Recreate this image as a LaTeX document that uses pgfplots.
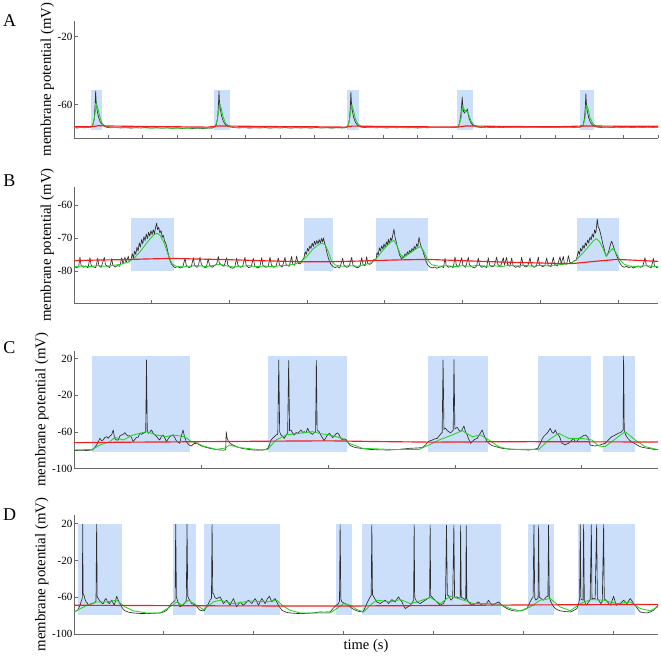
\documentclass[border=0pt]{standalone}
\usepackage{pgfplots}
\pgfplotsset{compat=1.18}
\usepackage{fontspec}
\setmainfont{Liberation Serif}
\definecolor{cshade}{RGB}{204,223,250}
\definecolor{ctrace}{RGB}{45,45,45}
\definecolor{cgreen}{RGB}{35,210,35}
\definecolor{cred}{RGB}{240,30,30}
\definecolor{axgray}{RGB}{105,105,105}
\pgfplotsset{
  panel/.style={
    scale only axis, width=584pt,
    axis x line*=bottom, axis y line*=left,
    axis line style={axgray, line width=0.7pt},
    tick align=inside, major tick length=3.5pt,
    tick style={axgray, line width=0.7pt},
    xticklabels={},
    yticklabel style={font=\fontsize{11}{12}\selectfont, inner sep=1.5pt},
    ylabel={membrane potential (mV)},
    ylabel style={font=\fontsize{14.8}{16}\selectfont, inner sep=2pt},
    anchor=south west,
  },
  box/.style={fill=cshade, draw=none},
  blk/.style={color=ctrace, line width=0.65pt, line join=round},
  grn/.style={color=cgreen, line width=0.85pt, line join=round},
  redl/.style={color=cred, line width=1.15pt, line join=round},
}
\begin{document}
\begin{tikzpicture}
\useasboundingbox (0,0) rectangle (661pt,-656pt);
\node[font=\fontsize{18}{20}\selectfont] at (9.5pt,-21pt) {A};
\node[font=\fontsize{18}{20}\selectfont] at (9.5pt,-181pt) {B};
\node[font=\fontsize{18}{20}\selectfont] at (9.5pt,-348pt) {C};
\node[font=\fontsize{18}{20}\selectfont] at (9.5pt,-515pt) {D};

% ---------------- A ----------------
\begin{axis}[panel, at={(74pt,-138pt)}, height=117pt,
  xmin=0, xmax=17, ymin=-79.6, ymax=-10.8,
  xtick={1,...,17}, ytick={-60,-20}, yticklabels={-60,-20}]
\addplot[box] coordinates {(0.486,-74.9) (0.806,-74.9) (0.806,-51.4) (0.486,-51.4)} -- cycle;
\addplot[box] coordinates {(4.076,-74.9) (4.54,-74.9) (4.54,-51.4) (4.076,-51.4)} -- cycle;
\addplot[box] coordinates {(7.94,-74.9) (8.30,-74.9) (8.30,-51.4) (7.94,-51.4)} -- cycle;
\addplot[box] coordinates {(11.14,-74.9) (11.61,-74.9) (11.61,-51.4) (11.14,-51.4)} -- cycle;
\addplot[box] coordinates {(14.73,-74.9) (15.14,-74.9) (15.14,-51.4) (14.73,-51.4)} -- cycle;
\addplot[blk] coordinates {
(0,-73.4) (0.1,-73.7) (0.2,-73.3) (0.3,-73.6) (0.4,-73.4) (0.48,-73.2) (0.55,-72.0) (0.59,-68.0) (0.615,-60.0) (0.63,-52.0) (0.645,-58.0) (0.67,-63.0) (0.71,-67.0) (0.76,-70.0) (0.83,-72.0) (0.93,-73.2) (1.05,-73.6) (1.2,-73.3) (1.35,-73.7) (1.5,-73.4) (1.65,-73.8) (1.8,-73.5) (1.95,-73.7) (2.1,-73.4) (2.25,-73.8) (2.4,-73.5) (2.55,-73.8) (2.7,-73.6) (2.85,-73.9) (3.0,-73.6) (3.15,-74.0) (3.3,-73.7) (3.45,-74.0) (3.6,-73.8) (3.75,-74.0) (3.9,-73.8) (4.05,-73.7)
(4.14,-72.0) (4.18,-68.0) (4.205,-60.0) (4.22,-52.0) (4.235,-58.0) (4.26,-63.0) (4.3,-67.0) (4.35,-70.0) (4.42,-72.0) (4.52,-73.0) (4.65,-73.4) (4.8,-73.7) (4.95,-73.4) (5.1,-73.8) (5.25,-73.5) (5.4,-73.7) (5.55,-73.4) (5.7,-73.8) (5.85,-73.5) (6.0,-73.7) (6.15,-73.4) (6.3,-73.8) (6.45,-73.5) (6.6,-73.7) (6.75,-73.5) (6.9,-73.8) (7.05,-73.4) (7.2,-73.7) (7.35,-73.5) (7.5,-73.8) (7.65,-73.5) (7.8,-73.7) (7.92,-73.5)
(7.98,-72.2) (8.02,-68.5) (8.045,-61.0) (8.06,-52.5) (8.075,-58.5) (8.1,-63.5) (8.14,-67.5) (8.19,-70.3) (8.26,-72.2) (8.36,-73.2) (8.5,-73.5) (8.65,-73.3) (8.8,-73.6) (8.95,-73.4) (9.1,-73.7) (9.25,-73.4) (9.4,-73.6) (9.55,-73.3) (9.7,-73.6) (9.85,-73.4) (10.0,-73.7) (10.15,-73.4) (10.3,-73.6) (10.45,-73.3) (10.6,-73.5) (10.75,-73.3) (10.9,-73.5) (11.05,-73.3) (11.15,-73.2)
(11.22,-71.5) (11.26,-66) (11.285,-60) (11.3,-55.5) (11.315,-60) (11.34,-64) (11.37,-65) (11.4,-63.5) (11.43,-63.8) (11.45,-62.5) (11.47,-65) (11.5,-68) (11.55,-70.5) (11.62,-72.3) (11.72,-73.1) (11.85,-73.4) (12.0,-73.2) (12.15,-73.5) (12.3,-73.3) (12.45,-73.5) (12.6,-73.2) (12.75,-73.5) (12.9,-73.3) (13.05,-73.5) (13.2,-73.2) (13.35,-73.4) (13.5,-73.2) (13.65,-73.4) (13.8,-73.1) (13.95,-73.4) (14.1,-73.2) (14.25,-73.4) (14.4,-73.2) (14.55,-73.4) (14.7,-73.3)
(14.82,-72.0) (14.86,-68.0) (14.885,-61) (14.9,-53.5) (14.915,-59) (14.94,-63.5) (14.98,-67.5) (15.03,-70.3) (15.1,-72.2) (15.2,-73.1) (15.35,-73.4) (15.5,-73.2) (15.65,-73.5) (15.8,-73.2) (15.95,-73.4) (16.1,-73.2) (16.25,-73.5) (16.4,-73.2) (16.55,-73.4) (16.7,-73.2) (16.85,-73.4) (17,-73.3)};
\addplot[grn] coordinates {
(0,-73.5) (0.45,-73.4) (0.53,-72.5) (0.58,-69.5) (0.62,-64.0) (0.66,-59.6) (0.7,-62.5) (0.75,-67.0) (0.82,-71.0) (0.92,-72.8) (1.1,-73.4) (2.0,-73.6) (3.0,-73.8) (4.0,-73.7) (4.1,-73.0) (4.16,-70.0) (4.21,-64.0) (4.25,-59.8) (4.29,-62.5) (4.34,-67.0) (4.41,-71.0) (4.52,-72.8) (4.7,-73.4) (6.0,-73.6) (7.9,-73.6) (7.96,-73.0) (8.01,-70.0) (8.05,-64.5) (8.09,-60.2) (8.13,-63.0) (8.18,-67.5) (8.25,-71.0) (8.36,-72.8) (8.55,-73.4) (10,-73.5) (11.1,-73.3) (11.2,-72.5) (11.26,-68.5) (11.3,-63.5) (11.33,-61.0) (11.37,-63.5) (11.41,-64.2) (11.45,-63.8) (11.5,-66.5) (11.56,-69.8) (11.65,-72.2) (11.8,-73.1) (13,-73.4) (14.75,-73.3) (14.82,-72.5) (14.87,-68.5) (14.9,-63.5) (14.93,-60.5) (14.97,-63.0) (15.02,-67.5) (15.1,-71.0) (15.2,-72.6) (15.4,-73.3) (17,-73.3)};
\addplot[redl] coordinates {
(0,-72.9) (0.5,-73.0) (0.7,-72.4) (1.2,-72.6) (2,-72.8) (3,-73.0) (3.9,-73.2) (4.2,-72.5) (5,-72.7) (6,-72.9) (7,-73.0) (7.9,-73.2) (8.1,-72.6) (9,-72.8) (10,-73.0) (11.2,-73.1) (11.4,-72.5) (12.5,-72.8) (14,-73.0) (14.9,-72.5) (16,-72.7) (17,-72.7)};
\end{axis}

% ---------------- B ----------------
\begin{axis}[panel, at={(74pt,-303.3pt)}, height=116.6pt,
  xmin=0, xmax=7.516, ymin=-89.8, ymax=-54.5,
  xtick={1,...,7}, ytick={-80,-70,-60}, yticklabels={-80,-70,-60}]
\addplot[box] coordinates {(0.734,-79.9) (1.283,-79.9) (1.283,-64.0) (0.734,-64.0)} -- cycle;
\addplot[box] coordinates {(2.96,-79.9) (3.337,-79.9) (3.337,-64.0) (2.96,-64.0)} -- cycle;
\addplot[box] coordinates {(3.887,-79.9) (4.552,-79.9) (4.552,-64.0) (3.887,-64.0)} -- cycle;
\addplot[box] coordinates {(6.474,-79.9) (7.01,-79.9) (7.01,-64.0) (6.474,-64.0)} -- cycle;
\addplot[blk] coordinates {
(0,-78.6) (0.03,-79.0) (0.06,-78.7) (0.077,-75.8) (0.09,-78.2) (0.12,-78.9) (0.15,-78.5) (0.18,-79.1) (0.206,-76.0) (0.22,-78.3) (0.25,-78.8) (0.28,-79.0) (0.305,-76.2) (0.32,-78.4) (0.35,-78.9) (0.39,-75.9) (0.405,-78.2) (0.44,-78.7) (0.46,-79.0) (0.485,-76.3) (0.50,-78.3) (0.53,-78.8) (0.56,-78.4) (0.59,-78.6) (0.614,-76.0) (0.63,-77.9) (0.656,-75.8) (0.67,-77.6) (0.699,-75.5) (0.71,-77.3)
(0.734,-76.5) (0.75,-74.8) (0.765,-76.0) (0.78,-74.0) (0.795,-75.0) (0.81,-72.8) (0.825,-74.0) (0.84,-71.5) (0.855,-72.8) (0.87,-70.5) (0.885,-71.8) (0.90,-69.6) (0.915,-70.8) (0.93,-68.8) (0.945,-70.2) (0.96,-68.3) (0.975,-69.5) (0.99,-67.8) (1.005,-69.0) (1.02,-67.5) (1.035,-68.8) (1.05,-66.8) (1.064,-65.5) (1.075,-67.5) (1.09,-66.8) (1.105,-68.5) (1.12,-67.8) (1.135,-69.8) (1.15,-69.2) (1.165,-71.0) (1.18,-71.5) (1.195,-72.8) (1.21,-74.5) (1.225,-76.0) (1.24,-77.2) (1.257,-78.0) (1.28,-78.6) (1.30,-79.0)
(1.33,-78.7) (1.37,-79.1) (1.40,-78.8) (1.429,-76.2) (1.445,-78.3) (1.48,-79.0) (1.51,-78.7) (1.536,-76.0) (1.55,-78.2) (1.58,-78.9) (1.60,-78.6) (1.622,-75.8) (1.64,-78.1) (1.67,-78.8) (1.70,-79.1) (1.728,-76.3) (1.745,-78.4) (1.78,-78.9) (1.81,-78.3) (1.835,-78.0) (1.857,-75.6) (1.87,-77.6) (1.90,-78.2) (1.93,-78.6) (1.965,-76.0) (1.98,-78.2) (2.01,-78.9) (2.04,-79.2) (2.07,-78.8) (2.094,-76.1) (2.11,-78.3) (2.14,-78.9) (2.17,-78.6) (2.2,-75.9) (2.215,-78.2) (2.25,-79.0) (2.28,-78.7) (2.308,-76.2) (2.325,-78.4) (2.36,-79.1) (2.39,-78.8) (2.416,-76.0) (2.43,-78.3) (2.47,-78.9) (2.50,-78.6) (2.523,-75.8) (2.54,-78.2) (2.57,-78.9) (2.60,-78.5) (2.63,-76.1) (2.645,-78.3) (2.68,-78.8) (2.716,-75.9) (2.73,-78.1) (2.77,-78.6) (2.802,-75.6) (2.815,-77.9) (2.84,-78.3) (2.866,-75.5) (2.88,-77.6) (2.91,-77.9) (2.935,-77.0)
(2.96,-76.0) (2.975,-74.2) (2.99,-75.0) (3.005,-73.2) (3.02,-74.0) (3.035,-72.4) (3.05,-73.2) (3.065,-71.6) (3.08,-72.6) (3.095,-71.0) (3.11,-72.0) (3.125,-70.8) (3.14,-71.8) (3.155,-70.5) (3.17,-71.6) (3.185,-70.2) (3.20,-71.2) (3.21,-70.0) (3.225,-71.5) (3.24,-72.8) (3.255,-74.5) (3.27,-75.8) (3.29,-77.2) (3.31,-78.1) (3.337,-78.7)
(3.36,-79.0) (3.39,-78.7) (3.42,-79.1) (3.458,-76.2) (3.475,-78.3) (3.51,-78.9) (3.54,-78.6) (3.574,-75.9) (3.59,-78.2) (3.62,-78.8) (3.65,-79.0) (3.68,-78.6) (3.703,-76.0) (3.72,-78.1) (3.745,-78.4) (3.767,-75.7) (3.78,-77.8) (3.81,-78.0) (3.835,-77.5) (3.86,-76.5)
(3.887,-76.5) (3.90,-74.5) (3.915,-75.2) (3.93,-73.0) (3.945,-74.0) (3.96,-72.4) (3.975,-73.4) (3.99,-71.8) (4.005,-73.0) (4.02,-71.2) (4.035,-72.2) (4.045,-70.4) (4.06,-71.8) (4.075,-70.0) (4.09,-70.8) (4.105,-68.8) (4.118,-67.4) (4.13,-69.6) (4.145,-71.0) (4.16,-72.6) (4.175,-73.8) (4.19,-75.2) (4.205,-75.8) (4.217,-76.6) (4.23,-75.5) (4.245,-76.0) (4.26,-74.8) (4.275,-75.5) (4.29,-74.2) (4.305,-74.9) (4.32,-73.8) (4.335,-74.5) (4.35,-73.2) (4.365,-74.0) (4.38,-72.6) (4.395,-73.4) (4.41,-71.8) (4.425,-72.6) (4.44,-69.8) (4.455,-71.6) (4.47,-72.8) (4.485,-73.6) (4.50,-74.8) (4.515,-75.8) (4.53,-77.0) (4.552,-78.2) (4.58,-78.8)
(4.61,-79.1) (4.64,-78.8) (4.67,-79.2) (4.70,-78.9) (4.73,-78.6) (4.755,-79.0) (4.775,-76.2) (4.79,-78.3) (4.82,-78.9) (4.85,-78.6) (4.88,-79.0) (4.903,-75.8) (4.92,-78.2) (4.95,-78.8) (4.99,-76.0) (5.005,-78.3) (5.04,-78.9) (5.075,-75.9) (5.09,-78.2) (5.12,-78.7) (5.15,-79.1) (5.18,-78.6) (5.203,-76.1) (5.22,-78.3) (5.25,-78.9) (5.28,-78.5) (5.31,-79.0) (5.332,-76.0) (5.35,-78.2) (5.38,-78.8) (5.41,-78.4) (5.44,-75.8) (5.455,-78.1) (5.49,-78.7) (5.525,-76.0) (5.54,-78.2) (5.568,-75.9) (5.58,-78.0) (5.61,-78.6) (5.633,-76.1) (5.65,-78.3) (5.68,-78.9) (5.71,-78.6) (5.74,-78.9) (5.761,-75.9) (5.78,-78.2) (5.81,-78.8) (5.84,-78.5) (5.869,-76.0) (5.885,-78.2) (5.92,-78.9) (5.95,-78.6) (5.976,-75.8) (5.99,-78.1) (6.03,-78.7) (6.06,-78.4) (6.084,-76.1) (6.10,-78.2) (6.14,-78.7) (6.169,-75.9) (6.185,-78.0) (6.22,-78.5) (6.255,-75.7) (6.27,-77.8) (6.298,-75.6) (6.31,-77.6) (6.34,-78.0) (6.363,-75.4) (6.38,-77.4) (6.41,-77.6) (6.44,-76.8) (6.46,-76.9)
(6.474,-75.8) (6.49,-74.0) (6.505,-75.0) (6.52,-73.2) (6.535,-74.0) (6.55,-72.2) (6.565,-73.2) (6.58,-71.5) (6.595,-72.4) (6.61,-70.6) (6.625,-71.6) (6.64,-69.8) (6.655,-70.6) (6.67,-68.8) (6.685,-69.8) (6.70,-67.6) (6.715,-68.6) (6.725,-66.5) (6.735,-64.3) (6.745,-66.6) (6.76,-67.2) (6.775,-68.6) (6.79,-70.0) (6.805,-71.8) (6.82,-73.0) (6.835,-74.5) (6.85,-75.6) (6.865,-75.0) (6.88,-74.2) (6.895,-72.8) (6.91,-71.6) (6.92,-71.0) (6.935,-72.0) (6.95,-73.2) (6.965,-74.2) (6.98,-75.2) (6.995,-76.0) (7.01,-76.8) (7.03,-77.8) (7.05,-78.5)
(7.08,-78.9) (7.11,-78.6) (7.14,-79.0) (7.17,-78.7) (7.20,-79.1) (7.23,-78.8) (7.26,-78.5) (7.29,-78.9) (7.32,-78.6) (7.349,-76.0) (7.365,-78.3) (7.40,-78.8) (7.43,-79.0) (7.456,-76.2) (7.47,-78.4) (7.50,-79.0) (7.516,-78.8)};
\addplot[grn] coordinates {
(0,-78.8) (0.1,-78.5) (0.2,-78.7) (0.3,-78.4) (0.4,-78.6) (0.5,-78.3) (0.6,-78.0) (0.7,-77.3) (0.78,-76.0) (0.85,-74.2) (0.92,-72.0) (0.98,-70.2) (1.03,-69.0) (1.07,-68.6) (1.11,-69.3) (1.16,-71.5) (1.21,-75.0) (1.26,-77.8) (1.32,-78.6) (1.4,-78.8) (1.5,-78.5) (1.6,-78.4) (1.7,-78.7) (1.8,-78.3) (1.88,-78.0) (1.95,-78.4) (2.05,-78.8) (2.15,-78.6) (2.25,-78.4) (2.35,-78.7) (2.45,-78.5) (2.55,-78.7) (2.65,-78.4) (2.75,-78.3) (2.85,-77.9) (2.93,-77.0) (3.0,-75.5) (3.07,-73.5) (3.13,-72.3) (3.19,-71.6) (3.23,-72.0) (3.27,-74.0) (3.31,-76.8) (3.36,-78.2) (3.45,-78.6) (3.55,-78.4) (3.65,-78.6) (3.75,-78.0) (3.83,-77.5) (3.9,-76.0) (3.96,-74.2) (4.02,-72.5) (4.08,-71.2) (4.12,-70.8) (4.16,-72.5) (4.2,-75.0) (4.24,-75.8) (4.3,-75.0) (4.36,-74.0) (4.42,-73.0) (4.46,-72.6) (4.5,-74.0) (4.55,-76.6) (4.6,-78.1) (4.7,-78.6) (4.8,-78.4) (4.9,-78.7) (5.0,-78.4) (5.1,-78.6) (5.2,-78.3) (5.3,-78.6) (5.4,-78.4) (5.5,-78.7) (5.6,-78.3) (5.7,-78.5) (5.8,-78.3) (5.9,-78.6) (6.0,-78.3) (6.1,-78.5) (6.2,-78.2) (6.3,-78.0) (6.4,-77.6) (6.47,-76.5) (6.55,-74.6) (6.62,-72.7) (6.68,-71.0) (6.72,-70.2) (6.76,-71.0) (6.8,-72.8) (6.85,-75.6) (6.9,-74.0) (6.93,-73.2) (6.97,-74.3) (7.02,-76.4) (7.08,-78.0) (7.15,-78.5) (7.25,-78.7) (7.35,-78.4) (7.45,-78.6) (7.516,-78.7)};
\addplot[redl] coordinates {
(0,-76.9) (0.3,-76.7) (0.6,-76.6) (0.9,-76.4) (1.26,-76.2) (1.6,-76.4) (2.0,-76.6) (2.4,-76.9) (2.9,-77.2) (3.3,-77.2) (3.7,-77.0) (4.1,-76.7) (4.55,-76.5) (5.0,-76.9) (5.5,-77.3) (6.0,-77.6) (6.4,-77.8) (6.7,-77.1) (6.99,-76.5) (7.25,-76.8) (7.516,-77.1)};
\end{axis}

% ---------------- C ----------------
\begin{axis}[panel, at={(74pt,-468.7pt)}, height=118pt,
  xmin=0, xmax=4.6, ymin=-100, ymax=28.7,
  xtick={1,...,4}, ytick={-100,-60,-20,20}, yticklabels={-100,-60,-20,20}]
\addplot[box] coordinates {(0.144,-82.1) (0.911,-82.1) (0.911,22.9) (0.144,22.9)} -- cycle;
\addplot[box] coordinates {(1.526,-82.1) (2.147,-82.1) (2.147,22.9) (1.526,22.9)} -- cycle;
\addplot[box] coordinates {(2.789,-82.1) (3.257,-82.1) (3.257,22.9) (2.789,22.9)} -- cycle;
\addplot[box] coordinates {(3.653,-82.1) (4.075,-82.1) (4.075,22.9) (3.653,22.9)} -- cycle;
\addplot[box] coordinates {(4.163,-82.1) (4.42,-82.1) (4.42,22.9) (4.163,22.9)} -- cycle;
\addplot[blk] coordinates {
(0,-80.3) (0.05,-79.9) (0.1,-80.1) (0.144,-79.6) (0.16,-77.5) (0.178,-74.1) (0.19,-71.0) (0.204,-66.9) (0.217,-69.4) (0.23,-68.7) (0.243,-66.0) (0.257,-65.1) (0.27,-66.9) (0.283,-64.3) (0.296,-63.2) (0.309,-57.8) (0.32,-66.9) (0.335,-68.7) (0.349,-68.7) (0.362,-64.3) (0.375,-63.2) (0.388,-62.5) (0.401,-60.6) (0.414,-63.2) (0.427,-64.3) (0.44,-64.0) (0.453,-66.0) (0.466,-70.5) (0.479,-68.0) (0.492,-65.8) (0.505,-65.8) (0.518,-61.4) (0.531,-62.5) (0.545,-61.4) (0.558,-60.5) (0.565,-60) (0.571,18.6) (0.577,-58) (0.584,-61.4) (0.597,-60.2) (0.61,-57.8) (0.623,-61.0) (0.636,-63.2) (0.649,-64.5) (0.662,-66.9) (0.675,-68.7) (0.688,-65.0) (0.701,-63.2) (0.714,-66.0) (0.728,-70.5) (0.741,-67.6) (0.754,-65.1) (0.767,-64.0) (0.78,-63.2) (0.793,-66.0) (0.806,-69.4) (0.82,-71.0) (0.833,-72.3) (0.846,-64.0) (0.859,-57.8) (0.872,-66.0) (0.885,-70.5) (0.898,-73.0) (0.911,-74.5) (0.924,-75.2) (0.937,-73.6) (0.95,-72.3) (0.963,-72.8) (0.977,-73.0) (0.995,-74.6) (1.016,-75.9) (1.04,-76.7) (1.069,-77.8) (1.1,-78.6) (1.147,-79.6) (1.18,-79.8) (1.195,-79.2) (1.199,-59.6) (1.205,-66.0) (1.215,-70.0) (1.23,-72.3) (1.251,-74.1) (1.275,-75.6) (1.303,-77.0) (1.33,-78.0) (1.36,-78.6) (1.408,-79.6) (1.45,-79.8) (1.487,-79.6) (1.51,-78.9) (1.526,-77.8) (1.54,-74.0) (1.553,-68.7) (1.566,-66.5) (1.579,-65.1) (1.592,-63.2) (1.605,-62.5) (1.613,18.6) (1.62,-60.0) (1.631,-63.2) (1.644,-65.0) (1.657,-66.9) (1.67,-63.5) (1.683,-61.0) (1.691,18.0) (1.698,-58.5) (1.71,-57.8) (1.723,-61.5) (1.736,-63.2) (1.749,-60.5) (1.762,-61.5) (1.775,-59.6) (1.788,-57.8) (1.801,-60.5) (1.814,-59.6) (1.827,-61.0) (1.84,-56.0) (1.853,-59.5) (1.866,-61.4) (1.879,-62.5) (1.892,-60.5) (1.903,-59.8) (1.909,18.0) (1.915,-58.0) (1.93,-59.6) (1.945,-63.5) (1.958,-66.5) (1.971,-69.4) (1.984,-66.0) (1.997,-63.2) (2.011,-61.4) (2.024,-63.5) (2.037,-66.0) (2.05,-64.5) (2.063,-62.0) (2.076,-61.0) (2.089,-63.2) (2.102,-66.9) (2.115,-68.7) (2.13,-67.5) (2.147,-68.7) (2.17,-74.1) (2.195,-76.0) (2.22,-77.0) (2.27,-78.0) (2.325,-78.9) (2.4,-79.4) (2.482,-79.6) (2.56,-79.0) (2.64,-77.8) (2.7,-77.4) (2.744,-77.0) (2.77,-74.0) (2.789,-70.5) (2.805,-69.5) (2.823,-68.7) (2.84,-67.5) (2.862,-66.9) (2.878,-64.0) (2.893,-61.4) (2.9,-60.5) (2.907,18.6) (2.914,-57) (2.927,-56.0) (2.94,-58.5) (2.953,-59.6) (2.966,-61.0) (2.98,-59.0) (2.987,-58.0) (2.993,19.0) (3.0,-56.5) (3.019,-54.9) (3.032,-58.0) (3.045,-59.6) (3.058,-57.0) (3.071,-53.4) (3.084,-60.0) (3.097,-63.2) (3.11,-68.0) (3.124,-72.3) (3.137,-70.5) (3.15,-68.7) (3.163,-67.5) (3.176,-66.9) (3.19,-63.5) (3.202,-61.0) (3.215,-57.8) (3.228,-63.0) (3.241,-66.9) (3.254,-70.0) (3.267,-72.3) (3.29,-74.5) (3.32,-75.9) (3.345,-76.8) (3.372,-77.8) (3.42,-78.4) (3.477,-78.9) (3.53,-79.3) (3.581,-79.6) (3.62,-79.0) (3.652,-77.8) (3.662,-75.0) (3.673,-72.3) (3.686,-68.0) (3.699,-65.0) (3.712,-63.2) (3.725,-61.5) (3.738,-59.0) (3.751,-56.0) (3.764,-60.0) (3.778,-61.4) (3.791,-57.8) (3.804,-62.0) (3.817,-63.2) (3.83,-67.0) (3.843,-72.3) (3.856,-73.0) (3.869,-74.1) (3.882,-73.0) (3.895,-72.3) (3.908,-70.5) (3.921,-69.0) (3.934,-66.9) (3.947,-70.0) (3.96,-70.5) (3.973,-68.0) (3.987,-66.0) (4.0,-65.1) (4.013,-64.0) (4.026,-63.2) (4.04,-64.5) (4.052,-66.9) (4.065,-74.1) (4.085,-74.8) (4.104,-75.2) (4.124,-74.6) (4.144,-74.1) (4.163,-73.2) (4.183,-72.3) (4.2,-70.0) (4.218,-67.5) (4.235,-65.1) (4.26,-63.5) (4.287,-61.4) (4.305,-60.5) (4.313,-59.6) (4.325,-58.0) (4.329,23.0) (4.334,-58.0) (4.345,-63.2) (4.36,-66.5) (4.38,-69.4) (4.397,-71.0) (4.414,-72.3) (4.435,-74.0) (4.458,-75.9) (4.49,-77.0) (4.523,-77.8) (4.555,-78.6) (4.6,-79.4)};
\addplot[grn] coordinates {
(0,-79.6) (0.144,-78.9) (0.204,-74.1) (0.283,-70.5) (0.322,-65.8) (0.388,-68.7) (0.466,-63.2) (0.571,-59.6) (0.649,-63.2) (0.728,-65.1) (0.78,-63.2) (0.872,-65.1) (0.924,-70.5) (0.963,-71.6) (1.016,-75.2) (1.121,-78.9) (1.19,-77.5) (1.225,-74.1) (1.303,-77.0) (1.487,-79.6) (1.526,-78.9) (1.592,-68.7) (1.67,-63.2) (1.775,-61.4) (1.879,-59.6) (1.95,-62.0) (2.011,-63.2) (2.115,-66.9) (2.168,-72.3) (2.272,-77.8) (2.5,-79.0) (2.718,-78.9) (2.797,-74.1) (2.875,-68.7) (2.98,-63.2) (3.058,-58.5) (3.137,-65.1) (3.202,-63.2) (3.267,-68.7) (3.346,-75.9) (3.425,-78.9) (3.661,-78.9) (3.739,-68.7) (3.818,-61.4) (3.896,-66.9) (4.0,-66.9) (4.079,-68.7) (4.132,-75.2) (4.183,-75.9) (4.287,-65.1) (4.341,-59.6) (4.42,-68.7) (4.498,-75.9) (4.589,-78.9)};
\addplot[redl] coordinates {
(0,-71.6) (0.25,-71.3) (0.5,-71.0) (0.75,-70.8) (1.0,-70.5) (1.25,-70.3) (1.5,-70.0) (1.75,-69.8) (2.0,-69.6) (2.2,-70.0) (2.4,-70.4) (2.6,-70.7) (2.8,-71.0) (3.0,-70.9) (3.2,-70.7) (3.4,-70.6) (3.6,-70.5) (3.85,-70.6) (4.1,-70.7) (4.35,-70.8) (4.6,-70.8)};
\end{axis}

% ---------------- D ----------------
\begin{axis}[panel, at={(74pt,-634pt)}, height=119pt,
  xmin=0, xmax=6.5, ymin=-100, ymax=29.5,
  xtick={1,...,6}, ytick={-100,-60,-20,20}, yticklabels={-100,-60,-20,20},
  xlabel={time (s)},
  xlabel style={at={(axis description cs:0.5,0)}, anchor=north, yshift=-2pt, font=\fontsize{14.5}{16}\selectfont}]
\addplot[box] coordinates {(0.041,-78.8) (0.53,-78.8) (0.53,19.3) (0.041,19.3)} -- cycle;
\addplot[box] coordinates {(1.104,-78.8) (1.363,-78.8) (1.363,19.3) (1.104,19.3)} -- cycle;
\addplot[box] coordinates {(1.444,-78.8) (2.289,-78.8) (2.289,19.3) (1.444,19.3)} -- cycle;
\addplot[box] coordinates {(2.911,-78.8) (3.089,-78.8) (3.089,19.3) (2.911,19.3)} -- cycle;
\addplot[box] coordinates {(3.207,-78.8) (4.752,-78.8) (4.752,19.3) (3.207,19.3)} -- cycle;
\addplot[box] coordinates {(5.056,-78.8) (5.344,-78.8) (5.344,19.3) (5.056,19.3)} -- cycle;
\addplot[box] coordinates {(5.607,-78.8) (6.244,-78.8) (6.244,19.3) (5.607,19.3)} -- cycle;
\addplot[blk] coordinates {
(0,-76.0) (0.041,-74.1) (0.067,-68.7) (0.085,-63.2) (0.093,-61) (0.097,19.5) (0.101,-56) (0.111,-57.8) (0.122,-62) (0.134,-65.1) (0.147,-66) (0.16,-68.7) (0.178,-67.5) (0.197,-66.9) (0.226,-66.2) (0.245,-64) (0.252,19.5) (0.258,-59.6) (0.271,-61.4) (0.286,-64) (0.301,-65.1) (0.314,-67) (0.327,-66.9) (0.342,-63) (0.356,-61.4) (0.373,-65) (0.393,-66.9) (0.406,-65) (0.419,-63.2) (0.434,-66) (0.449,-68.7) (0.462,-64) (0.475,-58.9) (0.488,-62) (0.501,-65.1) (0.516,-68) (0.531,-70.5) (0.548,-73) (0.568,-74.8) (0.61,-76.3) (0.661,-77.1) (0.73,-77.6) (0.809,-77.8) (0.88,-77.5) (0.958,-77.1) (1.0,-76.0) (1.032,-74.1) (1.05,-71.5) (1.069,-68.7) (1.09,-66.5) (1.106,-65.1) (1.125,-63.5) (1.132,19.5) (1.14,-60) (1.151,-63.2) (1.165,-67) (1.18,-70.5) (1.205,-68.5) (1.229,-66.9) (1.25,-64) (1.258,19.5) (1.266,-59) (1.277,-61.4) (1.295,-64.5) (1.31,-66.9) (1.34,-68) (1.366,-69.8) (1.385,-72.5) (1.403,-74.1) (1.425,-74.6) (1.448,-74.8) (1.472,-71) (1.496,-66.9) (1.515,-63) (1.53,-61) (1.537,19.5) (1.544,-56) (1.552,-56.0) (1.57,-60.5) (1.589,-61.4) (1.607,-60.5) (1.626,-59.6) (1.645,-63.5) (1.663,-66.9) (1.682,-65) (1.7,-63.2) (1.718,-66) (1.737,-68.7) (1.755,-65) (1.774,-61.4) (1.792,-66) (1.811,-70.5) (1.83,-67.5) (1.849,-65.1) (1.867,-67) (1.886,-68.7) (1.913,-66) (1.941,-63.2) (1.96,-65) (1.979,-66.9) (1.997,-64) (2.016,-61.4) (2.035,-65) (2.053,-68.7) (2.072,-65) (2.09,-61.4) (2.108,-64) (2.127,-66.9) (2.15,-62) (2.175,-58.9) (2.188,-62) (2.201,-65.1) (2.22,-63) (2.238,-61.4) (2.256,-65) (2.275,-68.7) (2.295,-71.5) (2.313,-74.1) (2.36,-76.3) (2.405,-77.1) (2.46,-77.5) (2.517,-77.8) (2.59,-77.5) (2.665,-77.1) (2.7,-76.5) (2.739,-76.0) (2.78,-76.2) (2.832,-76.0) (2.851,-76.0) (2.885,-72) (2.918,-68.7) (2.944,-66.9) (2.955,-64) (2.962,19) (2.97,-62) (2.981,-65.1) (3.0,-66) (3.018,-66.9) (3.037,-67.8) (3.055,-68.7) (3.075,-70.5) (3.096,-72.3) (3.12,-73.5) (3.148,-74.8) (3.18,-75.5) (3.215,-76.0) (3.237,-72) (3.259,-66.9) (3.278,-63) (3.296,-59.6) (3.308,-58) (3.315,19) (3.322,-57) (3.333,-58.9) (3.35,-62) (3.37,-65.1) (3.39,-66) (3.408,-66.9) (3.435,-65) (3.463,-63.2) (3.482,-65) (3.501,-66.9) (3.52,-64.5) (3.538,-62.5) (3.557,-64) (3.575,-65.1) (3.594,-62) (3.612,-59.6) (3.63,-62.5) (3.65,-65.1) (3.668,-69) (3.687,-72.3) (3.715,-70.5) (3.742,-68.7) (3.765,-66) (3.78,-63) (3.786,19) (3.792,-60) (3.8,-62) (3.816,-65.1) (3.835,-66) (3.853,-66.9) (3.88,-65) (3.909,-63.2) (3.935,-61.5) (3.958,-60) (3.964,18.5) (3.97,-58.5) (3.983,-59.6) (4.0,-61.5) (4.02,-63.2) (4.048,-66) (4.076,-68.7) (4.095,-67.5) (4.113,-66.9) (4.135,-62) (4.146,18.5) (4.155,-58) (4.169,-57.8) (4.182,-60.5) (4.195,-63.2) (4.215,-61) (4.228,18.5) (4.236,-60) (4.262,-59.6) (4.285,-61) (4.298,-60.5) (4.303,18) (4.31,-60) (4.336,-61.4) (4.352,-62.5) (4.36,-61.5) (4.366,18) (4.372,-62) (4.392,-65.1) (4.41,-67) (4.429,-68.7) (4.447,-67.8) (4.466,-66.9) (4.485,-66) (4.503,-65.1) (4.522,-67) (4.54,-68.7) (4.558,-68.7) (4.577,-68.7) (4.596,-66) (4.614,-63.2) (4.632,-66) (4.651,-68.7) (4.67,-67.8) (4.688,-66.9) (4.707,-66) (4.726,-65.1) (4.745,-67) (4.763,-68.7) (4.79,-70.5) (4.818,-72.3) (4.855,-73.8) (4.893,-74.8) (4.93,-75) (4.967,-74.8) (5.004,-73.8) (5.041,-72.3) (5.055,-69.5) (5.067,-66.9) (5.082,-64) (5.097,-61.4) (5.11,-60) (5.119,18.5) (5.128,-60.5) (5.141,-63.2) (5.158,-61.5) (5.165,-61) (5.171,18) (5.178,-60) (5.197,-61.4) (5.212,-62.5) (5.226,-63.2) (5.241,-61.5) (5.256,-59.6) (5.275,-59) (5.282,18.5) (5.29,-60) (5.308,-65.1) (5.33,-69) (5.356,-72.3) (5.385,-73.8) (5.412,-74.8) (5.46,-75.5) (5.523,-76.0) (5.56,-74.5) (5.598,-72.3) (5.616,-66.9) (5.628,-62) (5.635,19) (5.642,-62) (5.655,-63) (5.665,-63) (5.672,19) (5.68,-64) (5.702,-68.7) (5.715,-67) (5.728,-65.1) (5.745,-63) (5.758,19) (5.765,-62) (5.784,-61.4) (5.8,-61.5) (5.817,19) (5.825,-61) (5.839,-63.2) (5.852,-65) (5.865,-66.9) (5.88,-64.5) (5.895,19) (5.902,-62) (5.924,-63.2) (5.945,-66) (5.969,-68.7) (5.988,-64) (6.006,-58.9) (6.02,-64) (6.036,-68.7) (6.058,-68) (6.081,-66.9) (6.1,-65) (6.118,-63.2) (6.136,-65) (6.155,-66.9) (6.173,-64) (6.192,-61.4) (6.21,-64) (6.229,-66.9) (6.259,-70.5) (6.28,-73.5) (6.303,-76.0) (6.34,-76.8) (6.377,-77.1) (6.414,-76) (6.451,-74.1) (6.48,-71) (6.5,-68.7)};
\addplot[grn] coordinates {
(0,-76.0) (0.145,-68.7) (0.252,-65.1) (0.364,-65.1) (0.475,-63.2) (0.568,-70.5) (0.661,-74.8) (0.809,-77.1) (0.958,-77.1) (1.069,-70.5) (1.144,-65.1) (1.2,-68.7) (1.274,-63.2) (1.366,-68.7) (1.44,-73.4) (1.552,-65.1) (1.626,-63.2) (1.774,-66.9) (1.96,-64.0) (2.146,-65.1) (2.257,-63.2) (2.331,-69.8) (2.405,-74.1) (2.517,-77.1) (2.832,-77.1) (2.851,-77.1) (2.925,-72.3) (2.999,-66.9) (3.074,-68.7) (3.148,-73.4) (3.222,-76.0) (3.296,-68.7) (3.37,-63.2) (3.519,-65.1) (3.631,-62.5) (3.742,-66.9) (3.816,-65.1) (3.964,-60.3) (4.076,-66.9) (4.187,-58.9) (4.336,-63.2) (4.447,-66.9) (4.596,-66.9) (4.744,-67.6) (4.855,-72.3) (4.967,-74.8) (5.078,-70.5) (5.189,-63.2) (5.3,-61.4) (5.412,-70.5) (5.523,-74.8) (5.635,-66.9) (5.746,-62.5) (5.895,-63.2) (6.043,-66.9) (6.192,-65.1) (6.303,-72.3) (6.415,-74.8) (6.5,-70.5)};
\addplot[redl] coordinates {
(0,-68.7) (0.25,-68.8) (0.5,-68.9) (0.75,-69.0) (1.0,-69.1) (1.25,-69.2) (1.5,-69.3) (1.75,-69.4) (2.0,-69.4) (2.25,-69.5) (2.5,-69.5) (2.83,-69.6) (3.1,-69.5) (3.4,-69.3) (3.7,-69.2) (4.0,-69.0) (4.3,-68.8) (4.6,-68.6) (4.9,-68.5) (5.2,-68.3) (5.5,-68.2) (5.8,-68.0) (6.1,-67.9) (6.5,-67.8)};
\end{axis}
\end{tikzpicture}
\end{document}
